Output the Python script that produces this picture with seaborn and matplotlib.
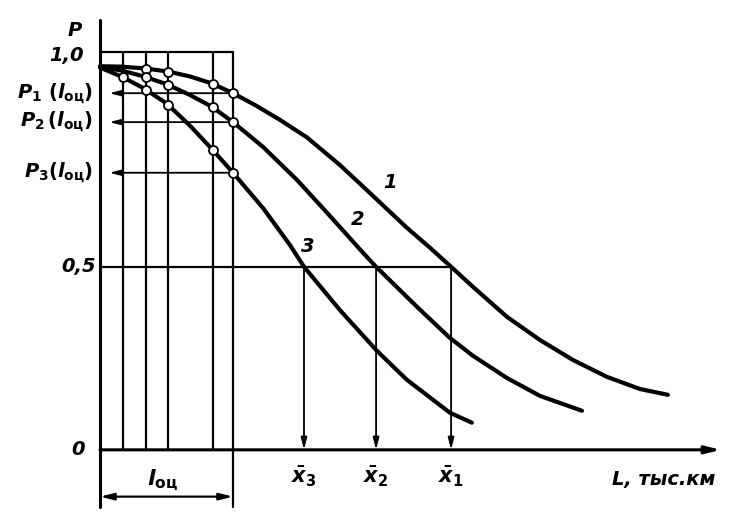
import numpy as np
import pandas as pd
import matplotlib
matplotlib.use("Agg")
import matplotlib.pyplot as plt
import seaborn as sns

# ---- data ----
L1 = [0, 0.83, 1.69, 2.56, 3.38, 4.21, 5.0, 5.86, 6.77, 7.78, 9.02, 10.26, 11.54,
      12.41, 13.2, 14.02, 15.30, 16.54, 17.78, 19.06, 20.30, 21.35]
P1 = [0.968, 0.967, 0.963, 0.956, 0.945, 0.929, 0.907, 0.879, 0.846, 0.806, 0.742,
      0.670, 0.594, 0.546, 0.500, 0.451, 0.376, 0.317, 0.265, 0.220, 0.187, 0.171]
L2 = [0, 0.83, 1.65, 2.52, 3.38, 4.21, 5.0, 6.13, 7.41, 8.65, 9.89, 10.38, 11.92,
      13.16, 14.02, 15.30, 16.54, 18.12]
P2 = [0.967, 0.958, 0.945, 0.927, 0.903, 0.876, 0.841, 0.784, 0.707, 0.622, 0.534,
      0.500, 0.401, 0.322, 0.276, 0.217, 0.168, 0.126]
L3 = [0, 0.83, 1.65, 2.52, 3.38, 4.21, 5.0, 6.13, 7.14, 7.67, 9.02, 10.41, 11.54,
      13.16, 13.98]
P3 = [0.965, 0.944, 0.918, 0.883, 0.833, 0.779, 0.724, 0.641, 0.553, 0.500, 0.393,
      0.289, 0.212, 0.120, 0.091]
curve_names = ["1", "2", "3"]
check_L = [0.85, 1.72, 2.56, 4.24]          # intermediate check runs
l_oc = 5.0                                   # evaluation run l_оц
xbar = [13.2, 10.38, 7.67]                   # mean runs x̄1, x̄2, x̄3
xbar_labels = [r"$\bar{x}_1$", r"$\bar{x}_2$", r"$\bar{x}_3$"]
p_labels = [r"$P_1\ (l_{\mathrm{оц}})$", r"$P_2\,(l_{\mathrm{оц}})$", r"$P_3(l_{\mathrm{оц}})$"]
y_tick_labels = ["1,0", "0,5", "0"]

# ---- setup ----
sns.set_style("white")
plt.rcParams["font.family"] = ["DejaVu Sans"]
plt.rcParams["mathtext.fontset"] = "custom"
plt.rcParams["mathtext.it"] = "DejaVu Sans:italic:bold"
plt.rcParams["mathtext.rm"] = "DejaVu Sans:bold"
plt.rcParams["mathtext.bf"] = "DejaVu Sans:bold"


def fwd(p):
    p = np.asarray(p, dtype=float)
    return np.sign(p) * np.abs(p) ** 1.12


def inv(q):
    q = np.asarray(q, dtype=float)
    return np.sign(q) * np.abs(q) ** (1 / 1.12)


fig = plt.figure(figsize=(7.33, 5.2), dpi=100)
ax = fig.add_axes([0, 0, 1, 1])
ax.set_yscale("function", functions=(fwd, inv))
ax.set_xlim(-3.76, 23.80)
ax.set_ylim(-0.2124, 1.1159)
ax.axis("off")

curves = pd.concat([
    pd.DataFrame({"L": L1, "P": P1, "curve": "1"}),
    pd.DataFrame({"L": L2, "P": P2, "curve": "2"}),
    pd.DataFrame({"L": L3, "P": P3, "curve": "3"}),
])

k = "black"
lw_grid = 1.6

# box top and check verticals
ax.plot([0, l_oc], [1.0, 1.0], color=k, lw=lw_grid)
for c in check_L:
    ax.plot([c, c], [0, 1.0], color=k, lw=lw_grid)
ax.plot([l_oc, l_oc], [-0.176, 1.0], color=k, lw=lw_grid)

# 0.5 level and arrows to x̄
ax.plot([0, max(xbar)], [0.5, 0.5], color=k, lw=lw_grid)
arrow = dict(arrowstyle="-|>,head_length=0.7,head_width=0.18", lw=1.3, color=k,
             shrinkA=0, shrinkB=0)
for xb in xbar:
    ax.annotate("", xy=(xb, 0.0), xytext=(xb, 0.5), arrowprops=arrow)

# P_i(l_оц) arrows
Pvals = [float(np.interp(l_oc, L, P)) for L, P in ((L1, P1), (L2, P2), (L3, P3))]
for pv in Pvals:
    ax.annotate("", xy=(0.35, pv), xytext=(l_oc, pv), arrowprops=arrow)

# curves
sns.lineplot(data=curves, x="L", y="P", hue="curve", palette=[k, k, k],
             lw=3.0, legend=False, sort=False, estimator=None, ax=ax,
             solid_joinstyle="round", solid_capstyle="round")

# circles
cx, cy = [], []
for L, P, name in ((L1, P1, "1"), (L2, P2, "2"), (L3, P3, "3")):
    pts = check_L[1:] + [l_oc] if name != "3" else check_L + [l_oc]
    for c in pts:
        cx.append(c)
        cy.append(float(np.interp(c, L, P)))
sns.scatterplot(x=cx, y=cy, s=42, color="white", edgecolor=k, linewidth=1.3,
                zorder=5, ax=ax)

# axes
ax.plot([0, 0], [-0.176, 1.071], color=k, lw=2.2)
ax.annotate("", xy=(23.35, 0), xytext=(0, 0),
            arrowprops=dict(arrowstyle="-|>,head_length=0.9,head_width=0.22",
                            lw=2.2, color=k, shrinkA=0, shrinkB=0))
# l_оц bracket
ax.annotate("", xy=(0, -0.148), xytext=(l_oc, -0.148),
            arrowprops=dict(arrowstyle="<|-|>,head_length=0.8,head_width=0.2",
                            lw=1.6, color=k, shrinkA=0, shrinkB=0))

# texts
tkw = dict(fontsize=14, style="italic", weight="bold", color=k)
ax.text(-0.94, 1.049, "P", ha="center", va="center", **tkw)
ax.text(-0.60, 0.993, y_tick_labels[0], ha="right", va="center", **tkw)
ax.text(-0.15, 0.5, y_tick_labels[1], ha="right", va="center", **tkw)
ax.text(-0.83, 0.0, y_tick_labels[2], ha="center", va="center", **tkw)
for lab, pv in zip(p_labels, Pvals):
    ax.text(-0.26, pv, lab, ha="right", va="center", fontsize=14, color=k)
for lab, xb in zip(xbar_labels, xbar):
    ax.text(xb, -0.09, lab, ha="center", va="center", fontsize=15, color=k)
ax.text(19.25, -0.0995, "L, тыс.км", ha="left", va="center", fontsize=14,
        style="italic", weight="bold", color=k)
ax.text(2.37, -0.0995, r"$l_{\mathrm{оц}}$", ha="center", va="center",
        fontsize=16, color=k)
for name, (lx, ly) in zip(curve_names, [(10.9, 0.702), (9.70, 0.613), (7.82, 0.548)]):
    ax.text(lx, ly, name, ha="center", va="center", **tkw)

fig.savefig("out.png", dpi=100)
